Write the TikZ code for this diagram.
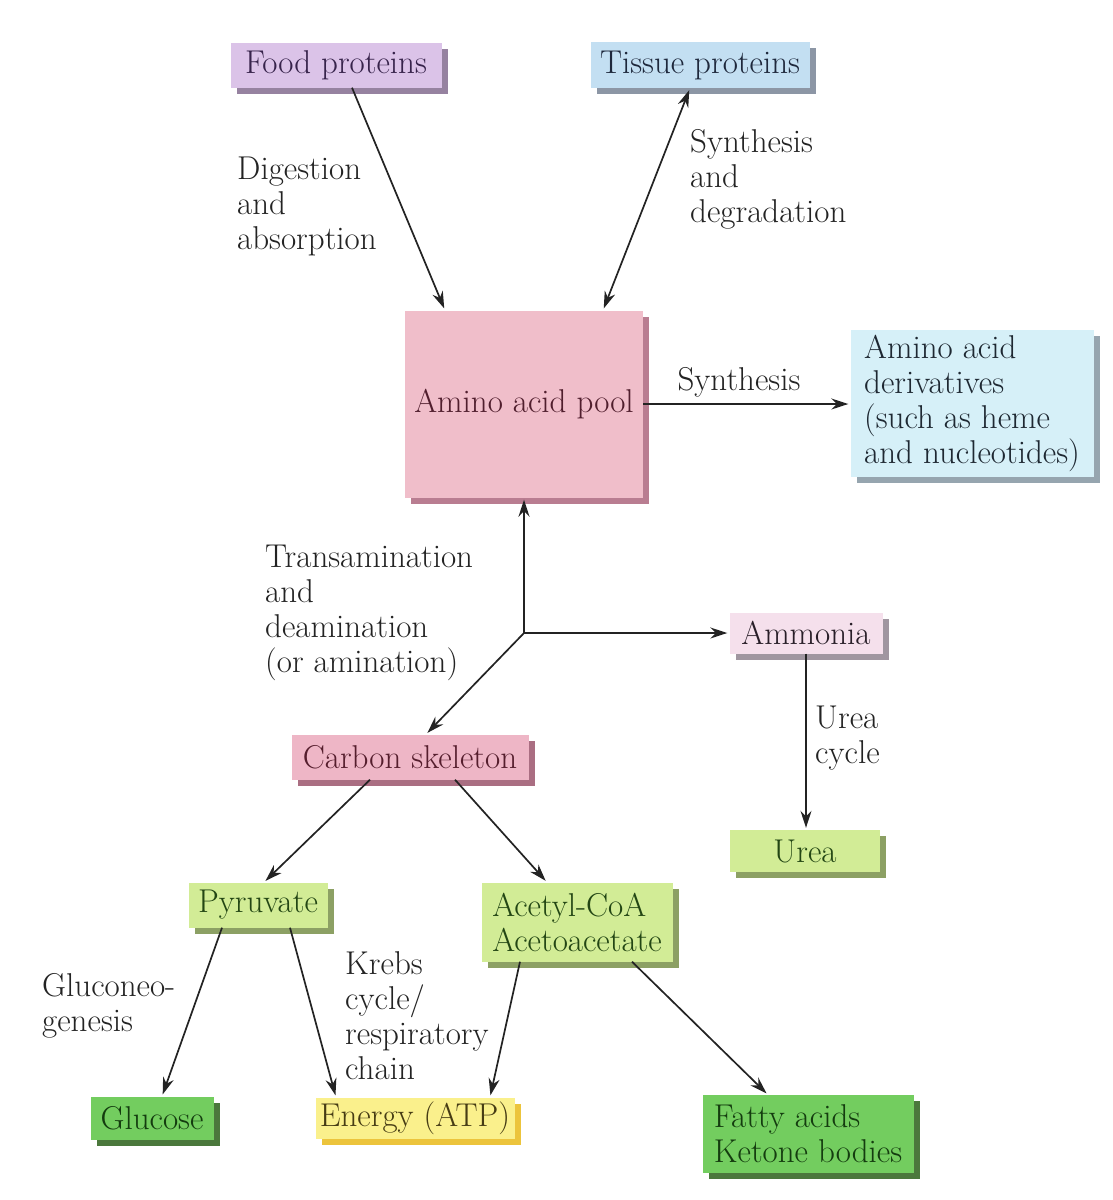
\documentclass[tikz,border=0pt]{standalone}
\usepackage{fontspec}
\usetikzlibrary{arrows.meta,shadows}

\definecolor{foodc}{RGB}{219,195,232}
\definecolor{foodsh}{RGB}{150,130,160}
\definecolor{foodt}{RGB}{55,35,75}
\definecolor{tissc}{RGB}{195,223,242}
\definecolor{tisssh}{RGB}{140,150,165}
\definecolor{tisst}{RGB}{30,40,60}
\definecolor{poolc}{RGB}{240,190,202}
\definecolor{poolsh}{RGB}{185,125,145}
\definecolor{poolt}{RGB}{80,30,45}
\definecolor{derc}{RGB}{214,240,248}
\definecolor{dersh}{RGB}{150,165,175}
\definecolor{dert}{RGB}{30,40,50}
\definecolor{ammc}{RGB}{245,224,236}
\definecolor{ammsh}{RGB}{160,150,160}
\definecolor{ammt}{RGB}{40,30,40}
\definecolor{carbc}{RGB}{238,182,198}
\definecolor{carbsh}{RGB}{170,110,130}
\definecolor{carbt}{RGB}{85,30,45}
\definecolor{lgreenc}{RGB}{210,236,150}
\definecolor{lgreensh}{RGB}{140,160,100}
\definecolor{lgreent}{RGB}{35,70,20}
\definecolor{dgreenc}{RGB}{115,205,95}
\definecolor{dgreensh}{RGB}{75,120,60}
\definecolor{dgreent}{RGB}{20,60,15}
\definecolor{energyc}{RGB}{250,240,140}
\definecolor{energysh}{RGB}{236,196,60}
\definecolor{energyt}{RGB}{70,60,20}
\definecolor{txt}{RGB}{35,35,35}

\begin{document}
\begin{tikzpicture}[x=1pt,y=-1pt,
  every node/.style={font=\fontsize{33}{35}\selectfont},
  box/.style n args={3}{fill=#1, text=#3, inner sep=0pt, align=left,
    drop shadow={shadow xshift=6pt,shadow yshift=-6pt,fill=#2,opacity=1}},
  arr/.style={draw=txt, line width=1.7pt, -{Stealth[length=17pt,width=11pt]}, shorten >=2pt},
  lbl/.style={anchor=north west, align=left, inner sep=0pt, text=txt}]
\useasboundingbox[fill=white] (0,0) rectangle (1113,1200);
% Kaesten
\node[box={foodc}{foodsh}{foodt}, minimum width=211, minimum height=45] (food) at (336,65) {Food proteins};
\node[box={tissc}{tisssh}{tisst}, minimum width=219, minimum height=46] (tissue) at (700,65) {Tissue proteins};
\node[box={poolc}{poolsh}{poolt}, minimum width=238, minimum height=187] (pool) at (524,404) {Amino acid pool};
\node[box={derc}{dersh}{dert}, minimum width=243, minimum height=147] (deriv) at (972,403) {Amino acid\\derivatives\\(such as heme\\and nucleotides)};
\node[box={ammc}{ammsh}{ammt}, minimum width=153, minimum height=41] (ammonia) at (806,633) {Ammonia};
\node[box={carbc}{carbsh}{carbt}, minimum width=237, minimum height=45] (carbon) at (410,757) {Carbon skeleton};
\node[box={lgreenc}{lgreensh}{lgreent}, minimum width=150, minimum height=42] (urea) at (805,851) {Urea};
\node[box={lgreenc}{lgreensh}{lgreent}, minimum width=139, minimum height=45] (pyruvate) at (258,905) {Pyruvate};
\node[box={lgreenc}{lgreensh}{lgreent}, minimum width=191, minimum height=79] (acetyl) at (577,922) {Acetyl-CoA\\Acetoacetate};
\node[box={dgreenc}{dgreensh}{dgreent}, minimum width=123, minimum height=43] (glucose) at (152,1118) {Glucose};
\node[box={energyc}{energysh}{energyt}, minimum width=199, minimum height=41] (energy) at (415,1118) {Energy (ATP)};
\node[box={dgreenc}{dgreensh}{dgreent}, minimum width=211, minimum height=78] (fatty) at (808,1134) {Fatty acids\\Ketone bodies};
% Pfeile
\coordinate (fork) at (524,633);
\draw[arr] ([xshift=16pt]food.south) -- ([xshift=-79pt]pool.north);
\draw[arr, {Stealth[length=17pt,width=11pt]}-{Stealth[length=17pt,width=11pt]}, shorten <=2pt] ([xshift=-10pt]tissue.south) -- ([xshift=79pt]pool.north);
\draw[arr] (pool.east) -- (pool.east -| deriv.west);
\draw[arr] (fork) -- (pool.south);
\draw[arr] (fork) -- (fork -| ammonia.west);
\draw[arr] (fork) -- ([xshift=16pt]carbon.north);
\draw[arr] (ammonia.south) -- (ammonia.south |- urea.north);
\draw[arr] ([xshift=-40pt]carbon.south) -- ([xshift=6pt]pyruvate.north);
\draw[arr] ([xshift=45pt]carbon.south) -- ([xshift=-30pt]acetyl.north);
\draw[arr] ([xshift=-36pt]pyruvate.south) -- ([xshift=10pt]glucose.north);
\draw[arr] ([xshift=32pt]pyruvate.south) -- ([xshift=-79pt]energy.north);
\draw[arr] ([xshift=-57pt]acetyl.south) -- ([xshift=75pt]energy.north);
\draw[arr] ([xshift=55pt]acetyl.south) -- ([xshift=-40pt]fatty.north);
% Beschriftung
\node[lbl] (digest) at (237,157) {Digestion\\and\\absorption};
\node[lbl] (synthdeg) at (690,129) {Synthesis\\and\\degradation};
\node[text=txt] (synth) at (739,382) {Synthesis};
\node[lbl] (transam) at (265,545) {Transamination\\and\\deamination\\(or amination)};
\node[lbl] (ureacyc) at (815,706) {Urea\\cycle};
\node[lbl] (gluconeo) at (42,973) {Gluconeo-\\genesis};
\node[lbl] (krebs) at (345,951) {Krebs\\cycle/\\respiratory\\chain};
\end{tikzpicture}
\end{document}
